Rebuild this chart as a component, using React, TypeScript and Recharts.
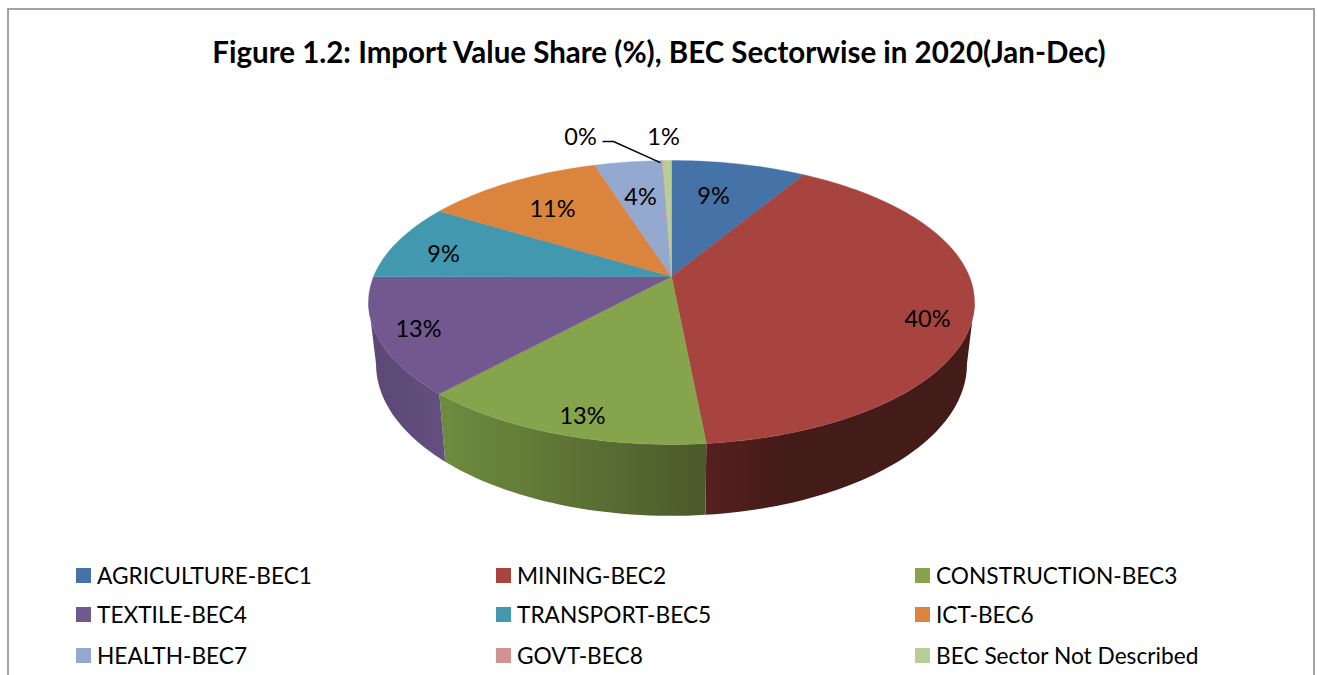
import { PieChart, Pie, Legend } from "recharts";

const categories = [
  "AGRICULTURE-BEC1",
  "MINING-BEC2",
  "CONSTRUCTION-BEC3",
  "TEXTILE-BEC4",
  "TRANSPORT-BEC5",
  "ICT-BEC6",
  "HEALTH-BEC7",
  "GOVT-BEC8",
  "BEC Sector Not Described",
];
const shares = [8.6, 39.9, 13.3, 13.2, 8.75, 11.4, 4.3, 0.05, 0.55];
const colors = ["#4572A7", "#A8443F", "#86A44B", "#71588F", "#4198AF", "#DB843D", "#93A9CF", "#D19392", "#B9CD96"];
const wallLeft = ["#2f4d72", "#542120", "#6f8c3e", "#5b4874", "#2c6677", "#95592a", "#64738d", "#8e6463", "#7e8b66"];
const wallRight = ["#2f4d72", "#431b18", "#4a5a2b", "#644f80", "#2c6677", "#95592a", "#64738d", "#8e6463", "#7e8b66"];

const data = categories.map((name, i) => ({ name, value: shares[i], fill: colors[i] }));

const WIDTH = 1318;
const HEIGHT = 675;
const FONT = "Lato, sans-serif";

// the pie is tilted, so the disc goes through a perspective projection
const CX = 671.5;
const CY = 276.5;
const A = 297.9;
const B = 137.2;
const K = 0.183;
const WALL_MIN = 100.5;
const WALL_MAX = 259.5;

// label spots, measured from the apex of the pie
const labelX = [42, 256, -89, -253, -228, -119, -31, -91, -8];
const labelY = [-82, 41, 138, 51, -24, -69, -81, -141, -141];

function project(theta: number, cx: number, cy: number) {
  const rad = (theta * Math.PI) / 180;
  const x = Math.sin(rad);
  const y = -Math.cos(rad);
  const w = 1 - K * y;
  return { x: cx + (A * x) / w, y: cy + (B * y) / w };
}

function lower(p: { x: number; y: number }, cx: number, cy: number) {
  const rel = p.y - cy;
  return { x: cx + (p.x - cx) * 0.975, y: p.y + 60 + 0.068 * rel };
}

function arc(from: number, to: number) {
  const steps = Math.max(2, Math.ceil((to - from) / 1.5));
  const out: number[] = [];
  for (let i = 0; i <= steps; i++) out.push(from + ((to - from) * i) / steps);
  return out;
}

function toPath(points: { x: number; y: number }[]) {
  return points.map((p, i) => `${i ? "L" : "M"}${p.x.toFixed(2)} ${p.y.toFixed(2)}`).join(" ") + " Z";
}

function TopSlice(props: any) {
  const { cx, cy, startAngle, endAngle, fill } = props;
  const rim = arc(90 - startAngle, 90 - endAngle).map((t) => project(t, cx, cy));
  return <path d={toPath([{ x: cx, y: cy }, ...rim])} fill={fill} stroke={fill} strokeWidth={0.4} />;
}

function WallSlice(props: any) {
  const { cx, cy, startAngle, endAngle, index } = props;
  const from = Math.max(90 - startAngle, WALL_MIN);
  const to = Math.min(90 - endAngle, WALL_MAX);
  if (to <= from) return <g />;
  const top = arc(from, to).map((t) => project(t, cx, cy));
  const bottom = top.map((p) => lower(p, cx, cy)).reverse();
  const id = `wall-${index}`;
  return (
    <g>
      <defs>
        <linearGradient id={id} x1="0" y1="0" x2="1" y2="0">
          <stop offset="0" stopColor={wallLeft[index]} />
          <stop offset={categories[index] === "MINING-BEC2" ? "0.3" : "1"} stopColor={wallRight[index]} />
        </linearGradient>
      </defs>
      <path d={toPath([...top, ...bottom])} fill={`url(#${id})`} />
    </g>
  );
}

function SliceLabel(props: any) {
  const { cx, cy, index, percent, midAngle } = props;
  const x = cx + labelX[index];
  const y = cy + labelY[index];
  let leader = null;
  if (categories[index] === "GOVT-BEC8") {
    const end = project(90 - midAngle, cx, cy);
    leader = <path d={`M${x + 22} ${y + 6} L${x + 33} ${y + 6} L${end.x - 2} ${end.y + 2}`} fill="none" stroke="#000" strokeWidth={1.4} />;
  }
  return (
    <g>
      {leader}
      <text x={x} y={y} textAnchor="middle" dominantBaseline="central" fontFamily={FONT} fontSize={23.5} fill="#000">
        {Math.round(percent * 100)}%
      </text>
    </g>
  );
}

function LegendGrid({ payload }: any) {
  const left = [76, 496, 915];
  const top = [567, 606, 647];
  return (
    <div style={{ position: "relative", width: WIDTH, height: HEIGHT }}>
      {categories.map((name, i) => {
        const item = (payload || []).find((p: any) => p.value === name);
        if (!item) return null;
        return (
          <div
            key={name}
            style={{
              position: "absolute",
              left: left[i % 3],
              top: top[Math.floor(i / 3)],
              height: 16,
              display: "flex",
              alignItems: "center",
              whiteSpace: "nowrap",
              fontFamily: FONT,
              fontSize: 22.7,
              color: "#000",
            }}
          >
            <span style={{ width: 15, height: 15, background: item.color, marginRight: 6, flex: "none" }} />
            {name}
          </div>
        );
      })}
    </div>
  );
}

export default function App() {
  return (
    <div style={{ position: "absolute", left: 0, top: 0, width: WIDTH, height: HEIGHT, overflow: "hidden", background: "#fff" }}>
      <div style={{ position: "absolute", left: 7, top: 8, width: 1304, height: 720, border: "2px solid #a3a3a3" }} />
      <div
        style={{
          position: "absolute",
          left: 0,
          top: 33,
          width: 1318,
          textAlign: "center",
          fontFamily: FONT,
          fontWeight: 700,
          fontSize: 29.5,
          lineHeight: "38px",
          color: "#000",
        }}
      >
        Figure 1.2: Import Value Share (%), BEC Sectorwise in 2020(Jan-Dec)
      </div>
      <div style={{ position: "absolute", left: 0, top: 0 }}>
        <PieChart width={WIDTH} height={HEIGHT} margin={{ top: 0, right: 0, bottom: 0, left: 0 }}>
          <Pie
            data={data}
            dataKey="value"
            nameKey="name"
            cx={CX}
            cy={CY}
            outerRadius={116}
            startAngle={90}
            endAngle={-270}
            legendType="none"
            shape={WallSlice}
            stroke="none"
            isAnimationActive={false}
          />
          <Pie
            data={data}
            dataKey="value"
            nameKey="name"
            cx={CX}
            cy={CY}
            outerRadius={116}
            startAngle={90}
            endAngle={-270}
            shape={TopSlice}
            stroke="none"
            label={SliceLabel}
            labelLine={false}
            isAnimationActive={false}
          />
          <Legend content={LegendGrid} wrapperStyle={{ position: "absolute", left: 0, top: 0, width: WIDTH, height: HEIGHT, bottom: "auto" }} />
        </PieChart>
      </div>
    </div>
  );
}
